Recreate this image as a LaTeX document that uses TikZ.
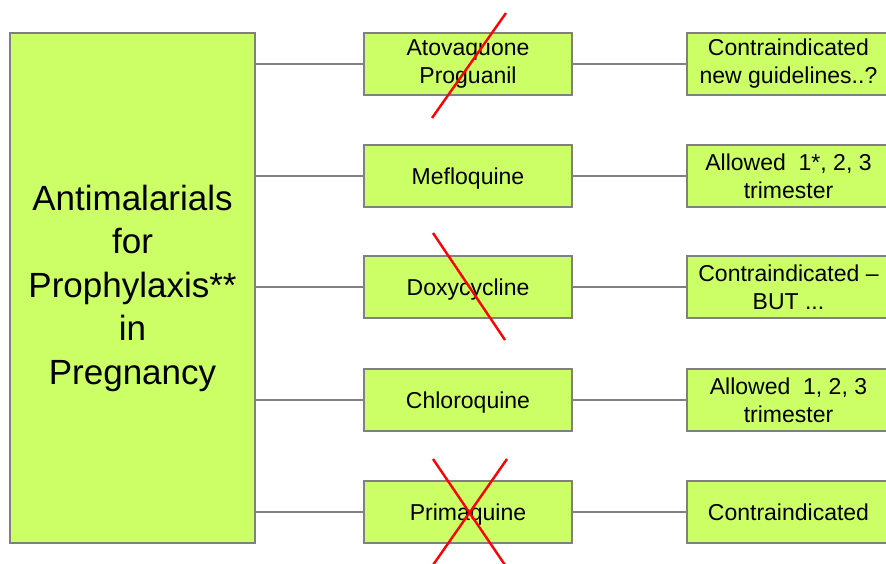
\documentclass[tikz,border=0pt]{standalone}
\usepackage{fontspec}
\setmainfont{Liberation Sans}
\definecolor{boxgreen}{RGB}{204, 255, 102}
\definecolor{boxline}{RGB}{128, 128, 128}
\usetikzlibrary{positioning, calc}

\begin{document}
\begin{tikzpicture}[
  x=1pt, y=-1pt,
  bx/.style={draw=boxline, fill=boxgreen, line width=1.3pt, inner sep=0pt, align=center, font=\fontsize{23}{28}\selectfont},
  drug/.style={bx, minimum width=208pt, minimum height=62pt},
  note/.style={bx, minimum width=203pt, minimum height=62pt},
  oneline/.style={text height=17pt, text depth=0pt},
  link/.style={draw=boxline, line width=1.3pt},
  cross/.style={red, line width=2.4pt},
]
  \useasboundingbox (0, 0) rectangle (886, 563);
  \clip (0, 0) rectangle (886, 563);
  % left box
  \node[bx, minimum width=245pt, minimum height=510pt, font=\fontsize{35}{43.5}\selectfont] (main) at (132.5, 288) {Antimalarials\\for\\Prophylaxis**\\in\\Pregnancy};
  % drugs
  \node[drug] (atov) at (468, 64) {Atovaquone\\Proguanil};
  \node[drug, oneline] (meflo) at (468, 176) {Mefloquine};
  \node[drug, oneline] (doxy) at (468, 287) {Doxycycline};
  \node[drug, oneline] (chloro) at (468, 400) {Chloroquine};
  \node[drug, oneline] (prima) at (468, 512) {Primaquine};
  % notes, cut off at the right edge
  \node[note] (atovn) at (788.5, 64) {Contraindicated\\new guidelines..?};
  \node[note] (meflon) at (788.5, 176) {Allowed~ 1*, 2, 3\\trimester};
  \node[note] (doxyn) at (788.5, 287) {Contraindicated --\\BUT ...};
  \node[note] (chloron) at (788.5, 400) {Allowed~ 1, 2, 3\\trimester};
  \node[note, oneline] (priman) at (788.5, 512) {Contraindicated};
  % links
  \draw[link] (main.east |- atov) -- (atov);
  \draw[link] (main.east |- meflo) -- (meflo);
  \draw[link] (main.east |- doxy) -- (doxy);
  \draw[link] (main.east |- chloro) -- (chloro);
  \draw[link] (main.east |- prima) -- (prima);
  \draw[link] (atov) -- (atovn);
  \draw[link] (meflo) -- (meflon);
  \draw[link] (doxy) -- (doxyn);
  \draw[link] (chloro) -- (chloron);
  \draw[link] (prima) -- (priman);
  % crossed out
  \draw[cross] ($(atov.center)+(38, -51)$) -- ($(atov.center)+(-36, 54)$);
  \draw[cross] ($(doxy.center)+(-35, -54)$) -- ($(doxy.center)+(37, 53)$);
  \draw[cross] ($(prima.center)+(-35, -53)$) -- ($(prima.center)+(37, 53)$);
  \draw[cross] ($(prima.center)+(39, -53)$) -- ($(prima.center)+(-35, 53)$);
\end{tikzpicture}
\end{document}
